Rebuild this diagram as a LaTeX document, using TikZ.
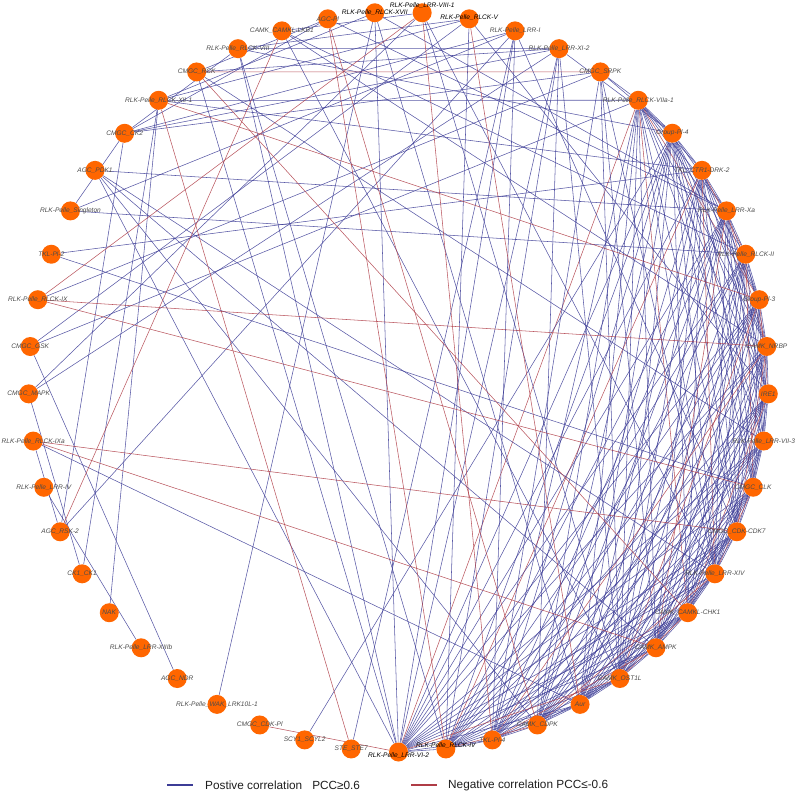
\documentclass[tikz,border=0pt]{standalone}
\usepackage{fontspec}
\setmainfont{Liberation Sans}
\usetikzlibrary{backgrounds}
\definecolor{nodeor}{RGB}{255,102,0}
\definecolor{posc}{RGB}{60,60,150}
\definecolor{negc}{RGB}{175,60,70}
\definecolor{labc}{RGB}{75,75,75}
\definecolor{legc}{RGB}{30,30,30}
\tikzset{
 kin/.style={circle,fill=nodeor,draw=none,minimum size=19pt,inner sep=0pt},
 lab/.style={font=\fontsize{6.6}{7}\selectfont\itshape,text=labc,inner sep=0pt},
 posedge/.style={draw=posc,line width=0.55pt,opacity=0.85},
 negedge/.style={draw=negc,line width=0.55pt,opacity=0.85},
 legline/.style={line width=1.4pt},
 legtext/.style={font=\fontsize{11.8}{13}\selectfont,text=legc,anchor=west,inner sep=0pt}
}
\begin{document}
\begin{tikzpicture}[x=1pt,y=-1pt]
\useasboundingbox (0,0) rectangle (800,793);
\foreach \k in {1,...,49}{
  \pgfmathsetmacro\ang{3.67+(\k-1)*7.346939-90}
  \pgfmathsetmacro\px{398.5+370*cos(\ang)}
  \pgfmathsetmacro\py{382+370*sin(\ang)}
  \node[kin] (n\k) at (\px,\py) {};
}
\foreach \k/\t/\dy/\tc in {1/RLK-Pelle\_LRR-VIII-1/-7/black,2/RLK-Pelle\_RLCK-V/-1/black,3/RLK-Pelle\_LRR-I/0/labc,4/RLK-Pelle\_LRR-XI-2/0/labc,5/CMGC\_SRPK/0/labc,6/RLK-Pelle\_RLCK-VIIa-1/0/labc,7/Group-Pl-4/0/labc,8/TKL\_CTR1-DRK-2/0/labc,9/RLK-Pelle\_LRR-Xa/0/labc,10/RLK-Pelle\_RLCK-II/0/labc,11/Group-Pl-3/0/labc,12/CAMK\_NRBP/0/labc,13/IRE1/0/labc,14/RLK-Pelle\_LRR-VII-3/0/labc,15/CMGC\_CLK/0/labc,16/CMGC\_CDK-CDK7/0/labc,17/RLK-Pelle\_LRR-XIV/0/labc,18/CAMK\_CAMKL-CHK1/0/labc,19/CAMK\_AMPK/0/labc,20/CAMK\_OST1L/0/labc,21/Aur/0/labc,22/CAMK\_CDPK/0/labc,23/TKL-Pl-4/0/labc,24/RLK-Pelle\_RLCK-IV/-3/black,25/RLK-Pelle\_LRR-VI-2/4/black,26/STE\_STE7/0/labc,27/SCY1\_SCYL2/0/labc,28/CMGC\_CDK-Pl/0/labc,29/RLK-Pelle\_WAK\_LRK10L-1/0/labc,30/AGC\_NDR/0/labc,31/RLK-Pelle\_LRR-XIIIb/0/labc,32/NAK/0/labc,33/CK1\_CK1/0/labc,34/AGC\_RSK-2/0/labc,35/RLK-Pelle\_LRR-IV/0/labc,36/RLK-Pelle\_RLCK-IXa/0/labc,37/CMGC\_MAPK/0/labc,38/CMGC\_GSK/0/labc,39/RLK-Pelle\_RLCK-IX/0/labc,40/TKL-Pl-2/0/labc,41/RLK-Pelle\_Singleton/0/labc,42/AGC\_PDK1/0/labc,43/CMGC\_CK2/0/labc,44/RLK-Pelle\_RLCK-XII-1/0/labc,45/CMGC\_RCK/0/labc,46/RLK-Pelle\_RLCK-VIII/0/labc,47/CAMK\_CAMKL-LKB1/0/labc,48/AGC-Pl/0/labc,49/RLK-Pelle\_RLCK-XVII/0/black}{
  \node[lab,text=\tc] (l\k) at ([yshift=-\dy pt]n\k.center) {\t};
}
\begin{pgfonlayer}{background}
% dense cluster on the right
\foreach \i in {6,...,24}{
  \pgfmathtruncatemacro\s{\i+1}
  \foreach \j in {\s,...,25}{
    \pgfmathtruncatemacro\q{mod(\i+2*\j,9)}
    \pgfmathtruncatemacro\c{mod(\i*\j,7)}
    \ifnum\q>0
      \ifnum\c=3 \draw[negedge] (n\i) -- (n\j); \else \draw[posedge] (n\i) -- (n\j); \fi
    \fi
  }
}
% positive correlations
\foreach \a/\b in {42/9,27/7,26/3,29/49,30/38,31/35,32/44,33/37,33/44,34/3,36/21,36/34,37/1,37/4,38/2,38/6,40/8,40/15,41/43,41/10,41/3,42/19,42/22,42/25,43/3,43/4,43/5,43/34,45/25,46/24,46/25,47/20,47/10,49/25,49/21,5/39,4/22,5/23,5/20,5/19,5/6,5/7,5/17,1/20,1/17,2/24,2/13,2/46,2/44,3/25,3/16,4/24,4/25,4/45,47/1,47/12,48/45,48/43,48/9,49/44,49/9,46/4,46/7,46/43,44/8,44/6,45/14,42/17,3/23,4/20,4/7}{
  \draw[posedge] (n\a) -- (n\b);
}
% negative correlations
\foreach \a/\b in {45/5,39/12,39/15,36/16,36/19,28/25,34/47,39/1,44/26,45/18,48/24,48/22,1/23,2/21,44/11}{
  \draw[negedge] (n\a) -- (n\b);
}
\end{pgfonlayer}
% legend
\coordinate (lp1) at (167,785);
\coordinate (lp2) at (193,785);
\coordinate (ln1) at (411,785);
\coordinate (ln2) at (437,785);
\draw[legline,draw=posc] (lp1) -- (lp2);
\draw[legline,draw=negc] (ln1) -- (ln2);
\node[legtext] (lt1) at (205,785) {Postive correlation\hspace{10pt}PCC≥0.6};
\node[legtext] (lt2) at (448,785) {Negative correlation PCC≤-0.6};
\end{tikzpicture}
\end{document}
